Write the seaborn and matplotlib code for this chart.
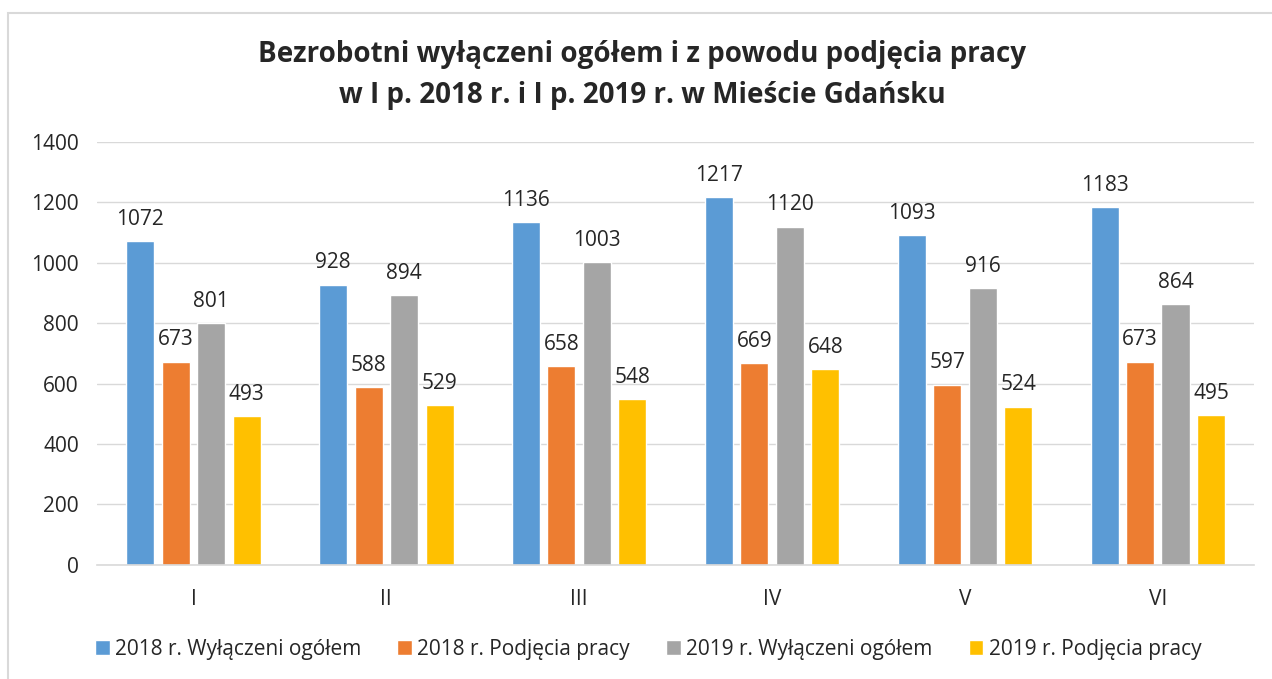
import pandas as pd
import seaborn as sns
import matplotlib.pyplot as plt
from matplotlib.patches import Rectangle

# Data
months = ["I", "II", "III", "IV", "V", "VI"]
series_names = ["2018 r. Wyłączeni ogółem", "2018 r. Podjęcia pracy",
                "2019 r. Wyłączeni ogółem", "2019 r. Podjęcia pracy"]
wyl_2018 = [1072, 928, 1136, 1217, 1093, 1183]
pod_2018 = [673, 588, 658, 669, 597, 673]
wyl_2019 = [801, 894, 1003, 1120, 916, 864]
pod_2019 = [493, 529, 548, 648, 524, 495]
colors = ["#5B9BD5", "#ED7D31", "#A5A5A5", "#FFC000"]

rows = []
for name, vals in zip(series_names, [wyl_2018, pod_2018, wyl_2019, pod_2019]):
    for m, v in zip(months, vals):
        rows.append({"miesiac": m, "seria": name, "wartosc": v})
df = pd.DataFrame(rows)

sns.set_style("white")
plt.rcParams["font.family"] = ["Open Sans", "DejaVu Sans"]

fig = plt.figure(figsize=(12.72, 6.79), dpi=100)
ax = fig.add_axes([0.0763, 0.168, 0.9097, 0.623])

sns.barplot(data=df, x="miesiac", y="wartosc", hue="seria", palette=colors,
            saturation=1, width=0.736, gap=0.21, ax=ax, legend=True, errorbar=None)

for cont in ax.containers:
    ax.bar_label(cont, padding=8, fontsize=15, color="#262626")

ax.set_ylim(0, 1400)
ax.set_yticks(range(0, 1401, 200))
ax.set_xlim(-0.5, 5.5)
ax.yaxis.grid(True, color="#D9D9D9", linewidth=1)
ax.set_axisbelow(True)
for s in ["top", "right", "left"]:
    ax.spines[s].set_visible(False)
ax.spines["bottom"].set_color("#D9D9D9")
ax.spines["bottom"].set_linewidth(1.2)
ax.tick_params(axis="both", length=0, labelsize=15, colors="#262626")
ax.tick_params(axis="y", pad=13)
ax.tick_params(axis="x", pad=17)
ax.set_xlabel("")
ax.set_ylabel("")

handles, labels = ax.get_legend_handles_labels()
ax.legend(handles, labels, loc="center", bbox_to_anchor=((648 - 97) / 1157, -0.2),
          ncol=4, frameon=False, fontsize=15, handlelength=0.7, handleheight=0.7,
          handletextpad=0.25, columnspacing=1.75, labelcolor="#262626")

fig.text(0.505, 0.919, "Bezrobotni wyłączeni ogółem i z powodu podjęcia pracy",
         ha="center", va="center", fontsize=20, fontweight="bold")
fig.text(0.505, 0.860, "w I p. 2018 r. i I p. 2019 r. w Mieście Gdańsku",
         ha="center", va="center", fontsize=20, fontweight="bold")

# outer frame of the chart
fig.patches.append(Rectangle((8 / 1272, -0.05), 1.1, 1 - 13 / 679 + 0.05,
                             transform=fig.transFigure, fill=False,
                             edgecolor="#D9D9D9", linewidth=1.5))

fig.savefig("out.png", dpi=100)
